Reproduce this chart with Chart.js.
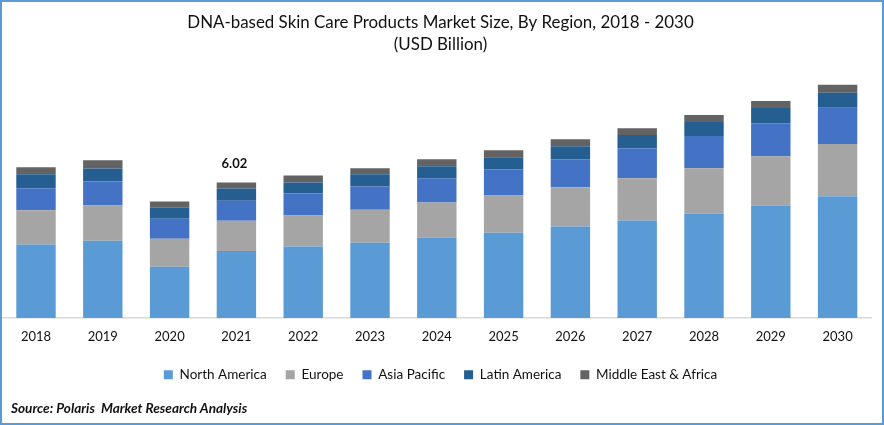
<!DOCTYPE html>
<html>
<head>
<meta charset="utf-8">
<title>DNA-based Skin Care Products Market Size</title>
<script src="https://cdn.jsdelivr.net/npm/chart.js@4"></script>
<style>
    html, body { margin: 0; padding: 0; background: #fff; }
    #frame { position: relative; box-sizing: border-box; width: 884px; height: 425px; border: 2px solid #5b9bd5; overflow: hidden; }
    #chartBox { position: absolute; left: 0; top: 0; width: 880px; height: 421px; }
    #source { position: absolute; left: 9px; top: 398px; font: italic bold 13.6px Lato, sans-serif; color: #111; }
</style>
</head>
<body>
<div id="frame">
    <div id="chartBox"><canvas id="marketChart"></canvas></div>
    <div id="source">Source: Polaris &nbsp;Market Research Analysis</div>
</div>
<script>
const years = ['2018', '2019', '2020', '2021', '2022', '2023', '2024', '2025', '2026', '2027', '2028', '2029', '2030'];
const northAmerica = [3.26, 3.43, 2.27, 2.98, 3.17, 3.34, 3.57, 3.79, 4.06, 4.33, 4.64, 4.99, 5.40];
const europe = [1.52, 1.56, 1.25, 1.34, 1.38, 1.47, 1.56, 1.65, 1.74, 1.87, 2.01, 2.19, 2.32];
const asiaPacific = [0.98, 1.07, 0.89, 0.89, 0.98, 1.03, 1.07, 1.16, 1.25, 1.34, 1.43, 1.47, 1.61];
const latinAmerica = [0.62, 0.58, 0.49, 0.54, 0.49, 0.54, 0.54, 0.54, 0.58, 0.58, 0.62, 0.67, 0.67];
const middleEast = [0.31, 0.36, 0.27, 0.27, 0.31, 0.27, 0.31, 0.31, 0.31, 0.31, 0.31, 0.31, 0.36];
const labelYear = '2021';
const labelText = '6.02';

// total over the 2021 bar
const totalLabel = {
    id: 'totalLabel',
    afterDatasetsDraw(chart) {
        const i = years.indexOf(labelYear);
        const top = chart.getDatasetMeta(4).data[i];
        const ctx = chart.ctx;
        ctx.save();
        ctx.font = 'bold 13px Lato, sans-serif';
        ctx.fillStyle = '#111';
        ctx.textAlign = 'center';
        ctx.textBaseline = 'bottom';
        ctx.fillText(labelText, top.x - 2, top.y - 12);
        ctx.restore();
    }
};

const bar = (label, data, color) => ({ label, data, backgroundColor: color, stack: 'total' });

new Chart(document.getElementById('marketChart'), {
    type: 'bar',
    data: {
        labels: years,
        datasets: [
            bar('North America', northAmerica, '#5b9bd5'),
            bar('Europe', europe, '#a5a5a5'),
            bar('Asia Pacific', asiaPacific, '#4472c4'),
            bar('Latin America', latinAmerica, '#255e91'),
            bar('Middle East & Africa', middleEast, '#636363')
        ]
    },
    options: {
        responsive: true,
        maintainAspectRatio: false,
        animation: false,
        layout: { padding: { left: 0.6, right: 3.6, top: 10, bottom: 31.5 } },
        datasets: { bar: { barPercentage: 1, categoryPercentage: 0.59 } },
        scales: {
            x: {
                stacked: true,
                grid: { display: false },
                border: { color: '#d9d9d9', width: 1.5 },
                ticks: { color: '#111', font: { family: 'Lato', size: 13 }, padding: 3, maxRotation: 0 },
                afterFit: (scale) => { scale.height = 31; }
            },
            // kept on the right with no marks so the title and legend centre past the plot
            y: {
                stacked: true,
                position: 'right',
                min: 0,
                max: 11,
                grid: { display: false },
                border: { display: false },
                ticks: { display: false },
                afterFit: (scale) => { scale.width = 7.4; }
            }
        },
        plugins: {
            title: {
                display: true,
                text: ['DNA-based Skin Care Products Market Size, By Region, 2018 - 2030', '(USD Billion)'],
                color: '#111',
                font: { family: 'Lato', size: 16.9, weight: 'normal', lineHeight: 1.3 },
                padding: { top: 0, bottom: 14.3 }
            },
            legend: {
                position: 'bottom',
                labels: { color: '#111', font: { family: 'Lato', size: 13.5 }, boxWidth: 9, boxHeight: 9, padding: 19 }
            },
            tooltip: { enabled: false }
        }
    },
    plugins: [totalLabel]
});
</script>
</body>
</html>
